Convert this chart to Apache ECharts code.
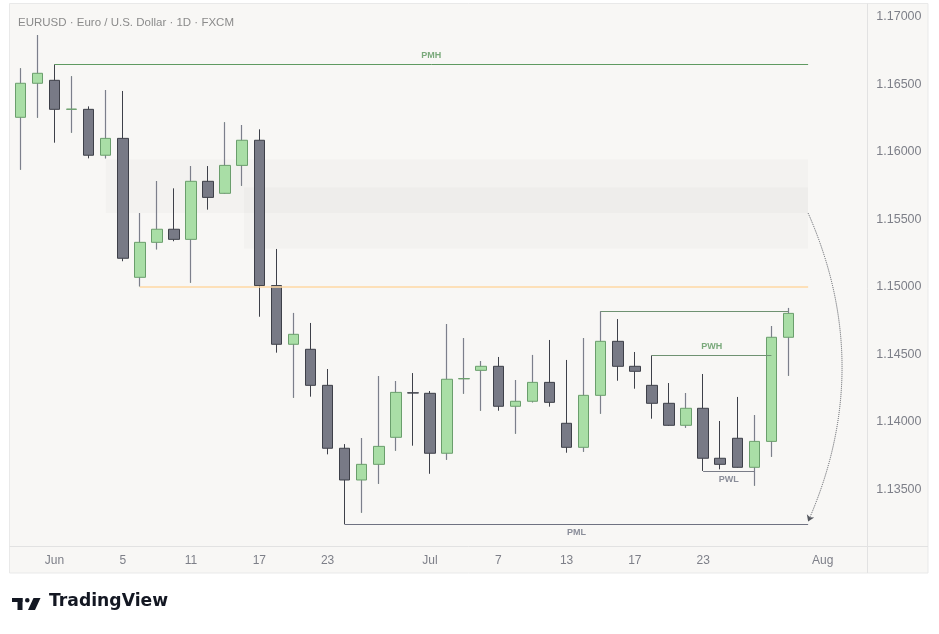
<!DOCTYPE html>
<html>
<head>
<meta charset="utf-8">
<script src="https://cdn.jsdelivr.net/npm/echarts@6/dist/echarts.min.js"></script>
<style>
  html, body { margin: 0; padding: 0; background: #ffffff; }
  #chart { width: 939px; height: 634px; }
</style>
</head>
<body>
<div id="chart"></div>
<script>
const categories = [
  '2025-05-28','2025-05-29','2025-06-01','2025-06-02','2025-06-03','2025-06-04','2025-06-05',
  '2025-06-08','2025-06-09','2025-06-10','2025-06-11','2025-06-12',
  '2025-06-15','2025-06-16','2025-06-17','2025-06-18','2025-06-19',
  '2025-06-22','2025-06-23','2025-06-24','2025-06-25','2025-06-26',
  '2025-06-29','2025-06-30','2025-07-01','2025-07-02','2025-07-03',
  '2025-07-06','2025-07-07','2025-07-08','2025-07-09','2025-07-10',
  '2025-07-13','2025-07-14','2025-07-15','2025-07-16','2025-07-17',
  '2025-07-20','2025-07-21','2025-07-22','2025-07-23','2025-07-24',
  '2025-07-27','2025-07-28','2025-07-29','2025-07-30','2025-07-31',
  '2025-08-03','2025-08-04','2025-08-05'
];
const openValues = [1.16255,1.16507,1.16529,1.16314,1.16314,1.15974,1.16099,1.15070,1.15329,1.15426,
  1.15351,1.15781,1.15692,1.15899,1.16085,1.15009,1.14574,1.14537,1.14270,1.13804,
  1.13569,1.13685,1.13885,1.14215,1.14211,1.13767,1.14318,1.14381,1.14411,1.14115,
  1.14152,1.14292,1.13989,1.13811,1.14196,1.14596,1.14411,1.14270,1.14137,1.13974,
  1.14100,1.13730,1.13878,1.13663,1.13855,1.14626];
const closeValues = [1.16507,1.16581,1.16314,1.16316,1.15974,1.16099,1.15211,1.15329,1.15426,1.15351,
  1.15781,1.15662,1.15899,1.16085,1.15009,1.14574,1.14648,1.14270,1.13804,1.13569,
  1.13685,1.13818,1.14218,1.14213,1.13767,1.14315,1.14320,1.14411,1.14115,1.14152,
  1.14292,1.14144,1.13811,1.14196,1.14596,1.14411,1.14374,1.14137,1.13974,1.14100,
  1.13730,1.13685,1.13663,1.13855,1.14626,1.14803];
const lowValues = [1.15867,1.16252,1.16067,1.16141,1.15951,1.15951,1.15189,1.15003,1.15277,1.15337,
  1.15030,1.15571,1.15692,1.15748,1.14778,1.14512,1.14178,1.14186,1.13759,1.13241,
  1.13327,1.13541,1.13786,1.13823,1.13615,1.13719,1.14208,1.14082,1.14082,1.13912,
  1.14144,1.14112,1.13771,1.13778,1.14060,1.14304,1.14245,1.14023,1.13970,1.13956,
  1.13636,1.13648,1.13660,1.13527,1.13741,1.14341];
const highValues = [1.16618,1.16864,1.16647,1.16559,1.16336,1.16457,1.16450,1.15546,1.15783,1.15729,
  1.15894,1.15894,1.16218,1.16198,1.16166,1.15280,1.14806,1.14732,1.14391,1.13835,
  1.13880,1.14339,1.14302,1.14361,1.14228,1.14724,1.14620,1.14450,1.14480,1.14309,
  1.14495,1.14606,1.14458,1.14620,1.14818,1.14761,1.14517,1.14492,1.14287,1.14213,
  1.14354,1.14006,1.14184,1.14050,1.14709,1.14843];

const xTickIndex = [2, 6, 10, 14, 18, 24, 28, 32, 36, 40, 47];
const xTickText  = ['Jun', '5', '11', '17', '23', 'Jul', '7', '13', '17', '23', 'Aug'];

const levelLabel = ['PMH', '', 'PML', '', 'PWH', 'PWL'];
const levelPrice = [1.16647, 1.15003, 1.13241, 1.14818, 1.14492, 1.13636];
const levelFrom  = [2, 7, 19, 34, 37, 40];
const levelTo    = [46.15, 46.15, 46.15, 45, 44, 43];

const zoneFrom = [5, 13.1];
const zoneTo   = [46.15, 46.15];
const zoneHigh = [1.15944, 1.15737];
const zoneLow  = [1.15546, 1.15282];

const arrowStart = [46.15, 1.15546];
const arrowEnd   = [46.15, 1.13262];

const FONT = 'Liberation Sans, Arial, sans-serif';
const levelStyles = [
  { color: '#5f9a61', width: 1, labelColor: '#7aa97b', pos: 'insideMiddleTop' },
  { color: '#ffd9a3', width: 1.5, labelColor: '#999', pos: 'insideMiddleTop' },
  { color: '#6f7281', width: 1, labelColor: '#8a8d99', pos: 'insideMiddleBottom' },
  { color: '#6f9272', width: 1, labelColor: '#7aa97b', pos: 'insideMiddleTop' },
  { color: '#6f9272', width: 1, labelColor: '#7aa97b', pos: 'insideMiddleTop' },
  { color: '#7a7d88', width: 1, labelColor: '#8a8d99', pos: 'insideMiddleBottom' }
];

const candleData = openValues.map((o, i) => [o, closeValues[i], lowValues[i], highValues[i]]);
const wickData = openValues.map((o, i) => [i, o, closeValues[i], lowValues[i], highValues[i]]);

const markLineData = levelPrice.map((p, i) => {
  const st = levelStyles[i];
  return [
    {
      coord: [levelFrom[i], p],
      lineStyle: { color: st.color, width: st.width, type: 'solid' },
      label: {
        show: !!levelLabel[i], formatter: levelLabel[i], position: st.pos,
        color: st.labelColor, fontSize: 9, fontWeight: 'bold', fontFamily: FONT, distance: 4
      }
    },
    { coord: [levelTo[i], p] }
  ];
});

const markAreaData = zoneFrom.map((f, i) => [
  { coord: [f, zoneHigh[i]] },
  { coord: [zoneTo[i], zoneLow[i]] }
]);

function spo(p) {
  const d = Math.round(p * 2);
  return (d + 1) % 2 === 0 ? d / 2 : (d - 1) / 2;
}

const chart = echarts.init(document.getElementById('chart'), null, { renderer: 'canvas' });

const option = {
  animation: false,
  backgroundColor: '#ffffff',
  title: {
    text: 'EURUSD · Euro / U.S. Dollar · 1D · FXCM',
    left: 13, top: 12,
    textStyle: { fontSize: 11.5, fontWeight: 'normal', color: '#8b8b8b', fontFamily: FONT }
  },
  graphic: [
    { type: 'rect', z: -10, silent: true,
      shape: { x: 9.5, y: 3.5, width: 918.5, height: 569.5 },
      style: { fill: '#f8f7f5', stroke: '#e9e9e9', lineWidth: 1 } },
    { type: 'line', z: -9, silent: true,
      shape: { x1: 867.5, y1: 3.5, x2: 867.5, y2: 573 },
      style: { stroke: '#e2e2e2', lineWidth: 1 } },
    { type: 'line', z: -9, silent: true,
      shape: { x1: 9.5, y1: 546.5, x2: 928, y2: 546.5 },
      style: { stroke: '#e2e2e2', lineWidth: 1 } },
    { type: 'rect', silent: true, shape: { x: 12, y: 598, width: 10.5, height: 4 }, style: { fill: '#131722' } },
    { type: 'rect', silent: true, shape: { x: 17.5, y: 598, width: 5, height: 12 }, style: { fill: '#131722' } },
    { type: 'circle', silent: true, shape: { cx: 27.3, cy: 600.2, r: 2.3 }, style: { fill: '#131722' } },
    { type: 'polygon', silent: true, shape: { points: [[33.5, 598], [40.5, 598], [35, 610], [28, 610]] }, style: { fill: '#131722' } },
    { type: 'text', silent: true, left: 49, top: 593.5,
      style: { text: 'TradingView', fontSize: 17.2, fontWeight: 'bold', fill: '#131722', fontFamily: 'DejaVu Sans, sans-serif' } }
  ],
  grid: { left: 11.8, right: 73.7, top: 4, bottom: 88, containLabel: false },
  xAxis: [
    {
      type: 'category', data: categories, boundaryGap: true,
      axisLine: { show: false }, axisTick: { show: false }, splitLine: { show: false },
      axisLabel: {
        interval: (idx) => xTickIndex.indexOf(idx) >= 0,
        formatter: (val, idx) => {
          const k = xTickIndex.indexOf(idx);
          return k >= 0 ? xTickText[k] : '';
        },
        color: '#7d7f88', fontSize: 12, fontFamily: FONT, margin: 9
      }
    },
    { type: 'value', min: -0.5, max: categories.length - 0.5, show: false }
  ],
  yAxis: {
    type: 'value', position: 'right', scale: true,
    min: 1.130802, max: 1.170941, splitNumber: 8, minInterval: 0.005, maxInterval: 0.005,
    axisLine: { show: false }, axisTick: { show: false }, splitLine: { show: false },
    axisLabel: {
      showMinLabel: false, showMaxLabel: false, margin: 11,
      color: '#7d7f88', fontSize: 12.5, fontFamily: FONT,
      formatter: (v) => {
        const r = Math.round(v / 0.005) * 0.005;
        return Math.abs(r - v) < 1e-7 ? v.toFixed(5) : '';
      }
    }
  },
  series: [
    {
      name: 'levels', type: 'line', xAxisIndex: 1, yAxisIndex: 0,
      data: [[46, 1.15]], showSymbol: false, symbol: 'none', lineStyle: { opacity: 0 },
      silent: true,
      markArea: { silent: true, itemStyle: { color: 'rgba(0,0,0,0.018)' }, data: markAreaData },
      markLine: { silent: true, symbol: 'none', precision: 5, data: markLineData }
    },
    {
      name: 'EURUSD', type: 'candlestick', xAxisIndex: 0, yAxisIndex: 0,
      data: candleData, barWidth: 11,
      itemStyle: {
        color: '#a9dea6', color0: '#787a86',
        borderColor: '#6a9e6c', borderColor0: '#3e4049', borderWidth: 1
      }
    },
    {
      name: 'wicks', type: 'custom', xAxisIndex: 0, yAxisIndex: 0, silent: true, z: 5,
      data: wickData, encode: { x: 0, y: [1, 2, 3, 4] },
      renderItem: function (params, api) {
        const i = api.value(0), o = api.value(1), c = api.value(2), l = api.value(3), h = api.value(4);
        if (c < o) return null;
        const pH = api.coord([i, h]);
        const pT = api.coord([i, Math.max(o, c)]);
        const pB = api.coord([i, Math.min(o, c)]);
        const pL = api.coord([i, l]);
        const x = spo(pH[0]);
        const st = { stroke: '#7c7f8b', lineWidth: 1.2 };
        return {
          type: 'group',
          children: [
            { type: 'line', shape: { x1: x, y1: pH[1], x2: x, y2: pT[1] - 0.5 }, style: st },
            { type: 'line', shape: { x1: x, y1: pB[1] + 0.5, x2: x, y2: pL[1] }, style: st }
          ]
        };
      }
    },
    {
      name: 'arrow', type: 'lines', coordinateSystem: 'cartesian2d', xAxisIndex: 1, yAxisIndex: 0,
      silent: true, symbol: ['none', 'arrow'], symbolSize: 6,
      lineStyle: { color: '#55585f', width: 1, type: 'dotted', curveness: 0.22, opacity: 1 },
      data: [{ coords: [arrowStart, arrowEnd] }]
    }
  ]
};
chart.setOption(option);
</script>
</body>
</html>
